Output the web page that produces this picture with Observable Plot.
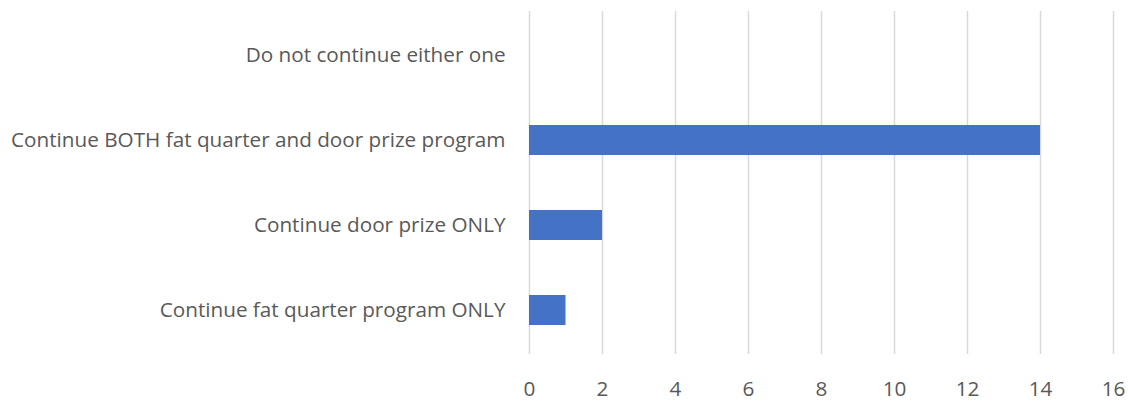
<!DOCTYPE html>
<html>
<head>
<meta charset="utf-8">
<script src="https://cdn.jsdelivr.net/npm/d3@7"></script>
<script src="https://cdn.jsdelivr.net/npm/@observablehq/plot@0.6"></script>
<style>
  html, body { margin: 0; padding: 0; background: #fff; }
  #chart svg { display: block; }
</style>
</head>
<body>
<div id="chart"></div>
<script>
const categories = [
  "Do not continue either one",
  "Continue BOTH fat quarter and door prize program",
  "Continue door prize ONLY",
  "Continue fat quarter program ONLY"
];
const values = [0, 14, 2, 1];
const xTicks = [0, 2, 4, 6, 8, 10, 12, 14, 16];

const data = categories.map((c, i) => ({category: c, value: values[i]}));

const chart = Plot.plot({
  width: 1128,
  height: 407,
  marginLeft: 529,
  marginRight: 15,
  marginTop: 11,
  marginBottom: 53,
  style: {
    fontFamily: "'Open Sans', sans-serif",
    fontSize: "20.7px",
    color: "#595959",
    background: "#fff"
  },
  x: {domain: [0, 16], ticks: xTicks, label: null},
  y: {domain: categories, label: null, paddingInner: 0.65, paddingOuter: 0.325},
  marks: [
    Plot.gridX(xTicks, {stroke: "#d9d9d9", strokeOpacity: 1, strokeWidth: 1.5}),
    Plot.barX(data, {x: "value", y: "category", fill: "#4472C4"}),
    Plot.axisX({ticks: xTicks, tickSize: 0, tickPadding: 27, label: null, fill: "#595959", fontSize: 20.7}),
    Plot.axisY({tickSize: 0, tickPadding: 24, label: null, fill: "#595959", fontSize: 20.7})
  ]
});
document.getElementById("chart").appendChild(chart);
</script>
</body>
</html>
